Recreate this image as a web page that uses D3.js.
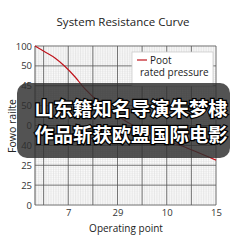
<!DOCTYPE html>
<html>
<head>
<meta charset="utf-8">
<script src="https://cdn.jsdelivr.net/npm/d3@7"></script>
<style>
  html, body { margin: 0; padding: 0; background: #fff; }
  #chart { width: 243px; height: 243px; }
  text { font-family: "Open Sans", "Noto Sans", sans-serif; }
</style>
</head>
<body>
<div id="chart"></div>
<script>
// grid index positions, labels are what the picture prints
var yTickLabels = ['0', '25', '25', '40', '0', '50', '45', '50', '100']; // bottom -> top
var xTickIdx = [1, 3, 5, 7];
var xTickLabels = ['7', '29', '10', '15'];
// curve (grid index units)
var curveX = [-0.35, 0.06, 0.46, 0.87, 1.28, 1.68, 2.29, 3.39, 4.73, 5.82, 7.0];
var curveY = [8, 7.70, 7.40, 6.97, 6.44, 5.84, 5.13, 4.18, 3.37, 2.87, 2.26];
var bannerLines = ['山东籍知名导演朱梦棣', '作品斩获欧盟国际电影'];

(function(){
    var W = 243, H = 243;
    var svg = d3.select('#chart').append('svg')
        .attr('width', W).attr('height', H);

    var x = d3.scaleLinear().domain([-0.35, 7]).range([35, 216]);
    var y = d3.scaleLinear().domain([0, 8]).range([205, 46]);

    // title
    svg.append('text')
        .attr('x', 123).attr('y', 26)
        .attr('text-anchor', 'middle')
        .style('font-size', '11.5px').attr('fill', '#222')
        .text('System Resistance Curve');

    var plot = svg.append('g');

    // minor grid (10 per major)
    var minorX = d3.range(-3, 71).map(function(i){ return i / 10; });
    var minorY = d3.range(0, 81).map(function(i){ return i / 10; });
    plot.selectAll('.mx').data(minorX).enter().append('line')
        .attr('x1', function(d){ return x(d); }).attr('x2', function(d){ return x(d); })
        .attr('y1', y(0)).attr('y2', y(8))
        .attr('stroke', '#d9d9d9').attr('stroke-width', 0.5);
    plot.selectAll('.my').data(minorY).enter().append('line')
        .attr('y1', function(d){ return y(d); }).attr('y2', function(d){ return y(d); })
        .attr('x1', x(-0.35)).attr('x2', x(7))
        .attr('stroke', '#d9d9d9').attr('stroke-width', 0.5);

    // major grid
    plot.selectAll('.Mx').data(d3.range(0, 8)).enter().append('line')
        .attr('x1', function(d){ return x(d); }).attr('x2', function(d){ return x(d); })
        .attr('y1', y(0)).attr('y2', y(8))
        .attr('stroke', '#555').attr('stroke-width', 0.8);
    plot.selectAll('.My').data(d3.range(0, 9)).enter().append('line')
        .attr('y1', function(d){ return y(d); }).attr('y2', function(d){ return y(d); })
        .attr('x1', x(-0.35)).attr('x2', x(7))
        .attr('stroke', '#555').attr('stroke-width', 0.8);
    plot.append('line')
        .attr('x1', x(-0.35)).attr('x2', x(-0.35)).attr('y1', y(0)).attr('y2', y(8))
        .attr('stroke', '#555').attr('stroke-width', 1);

    // axes (labels only)
    var yAxis = d3.axisLeft(y).tickValues(d3.range(9))
        .tickFormat(function(i){ return yTickLabels[i]; }).tickSize(0).tickPadding(3);
    var yg = svg.append('g').attr('transform', 'translate(' + x(-0.35) + ',0)').call(yAxis);
    yg.select('.domain').remove();
    yg.selectAll('text').style('font-size', '9.5px').attr('fill', '#333')
        .style('font-family', '"Open Sans", "Noto Sans", sans-serif');

    var xAxis = d3.axisBottom(x).tickValues(xTickIdx)
        .tickFormat(function(d, i){ return xTickLabels[i]; }).tickSize(0).tickPadding(4);
    var xg = svg.append('g').attr('transform', 'translate(0,' + y(0) + ')').call(xAxis);
    xg.select('.domain').remove();
    xg.selectAll('text').style('font-size', '9.5px').attr('fill', '#333')
        .style('font-family', '"Open Sans", "Noto Sans", sans-serif');

    svg.append('text')
        .attr('x', 126).attr('y', 232)
        .attr('text-anchor', 'middle')
        .style('font-size', '10px').attr('fill', '#222')
        .text('Operating point');

    svg.append('text')
        .attr('transform', 'translate(16,126) rotate(-90)')
        .attr('text-anchor', 'middle')
        .style('font-size', '10.5px').attr('fill', '#222')
        .text('Fowo railte');

    // curve
    var pts = curveX.map(function(v, i){ return [v, curveY[i]]; });
    var line = d3.line()
        .x(function(d){ return x(d[0]); })
        .y(function(d){ return y(d[1]); })
        .curve(d3.curveCatmullRom);
    plot.append('path').datum(pts)
        .attr('fill', 'none').attr('stroke', '#c0141c').attr('stroke-width', 1.2)
        .attr('d', line);

    // legend
    var lg = svg.append('g');
    lg.append('rect').attr('x', 132).attr('y', 52).attr('width', 81).attr('height', 34)
        .attr('fill', '#fff').attr('stroke', '#ccc').attr('stroke-width', 0.8);
    lg.append('line').attr('x1', 137).attr('x2', 147).attr('y1', 60).attr('y2', 60)
        .attr('stroke', '#c0141c').attr('stroke-width', 1.2);
    lg.append('text').attr('x', 150).attr('y', 63.5)
        .style('font-size', '10px').attr('fill', '#222').text('Poot');
    lg.append('text').attr('x', 140).attr('y', 76)
        .style('font-size', '10px').attr('fill', '#222').text('rated pressure');

    // overlay banner
    svg.append('rect')
        .attr('x', 17).attr('y', 83).attr('width', 213).attr('height', 75)
        .attr('rx', 10).attr('ry', 10)
        .attr('fill', 'rgba(45,45,45,0.82)');
    svg.selectAll('.bn').data(bannerLines).enter().append('text')
        .attr('x', 131).attr('y', function(d, i){ return 116 + i * 26; })
        .attr('text-anchor', 'middle')
        .style('font-family', '"Noto Sans CJK SC", sans-serif')
        .style('font-weight', 'bold')
        .style('font-size', '19px')
        .attr('textLength', 193).attr('lengthAdjust', 'spacingAndGlyphs')
        .attr('fill', '#fff')
        .attr('stroke', '#000').attr('stroke-width', 2.5)
        .attr('paint-order', 'stroke')
        .text(function(d){ return d; });
})();
</script>
</body>
</html>
